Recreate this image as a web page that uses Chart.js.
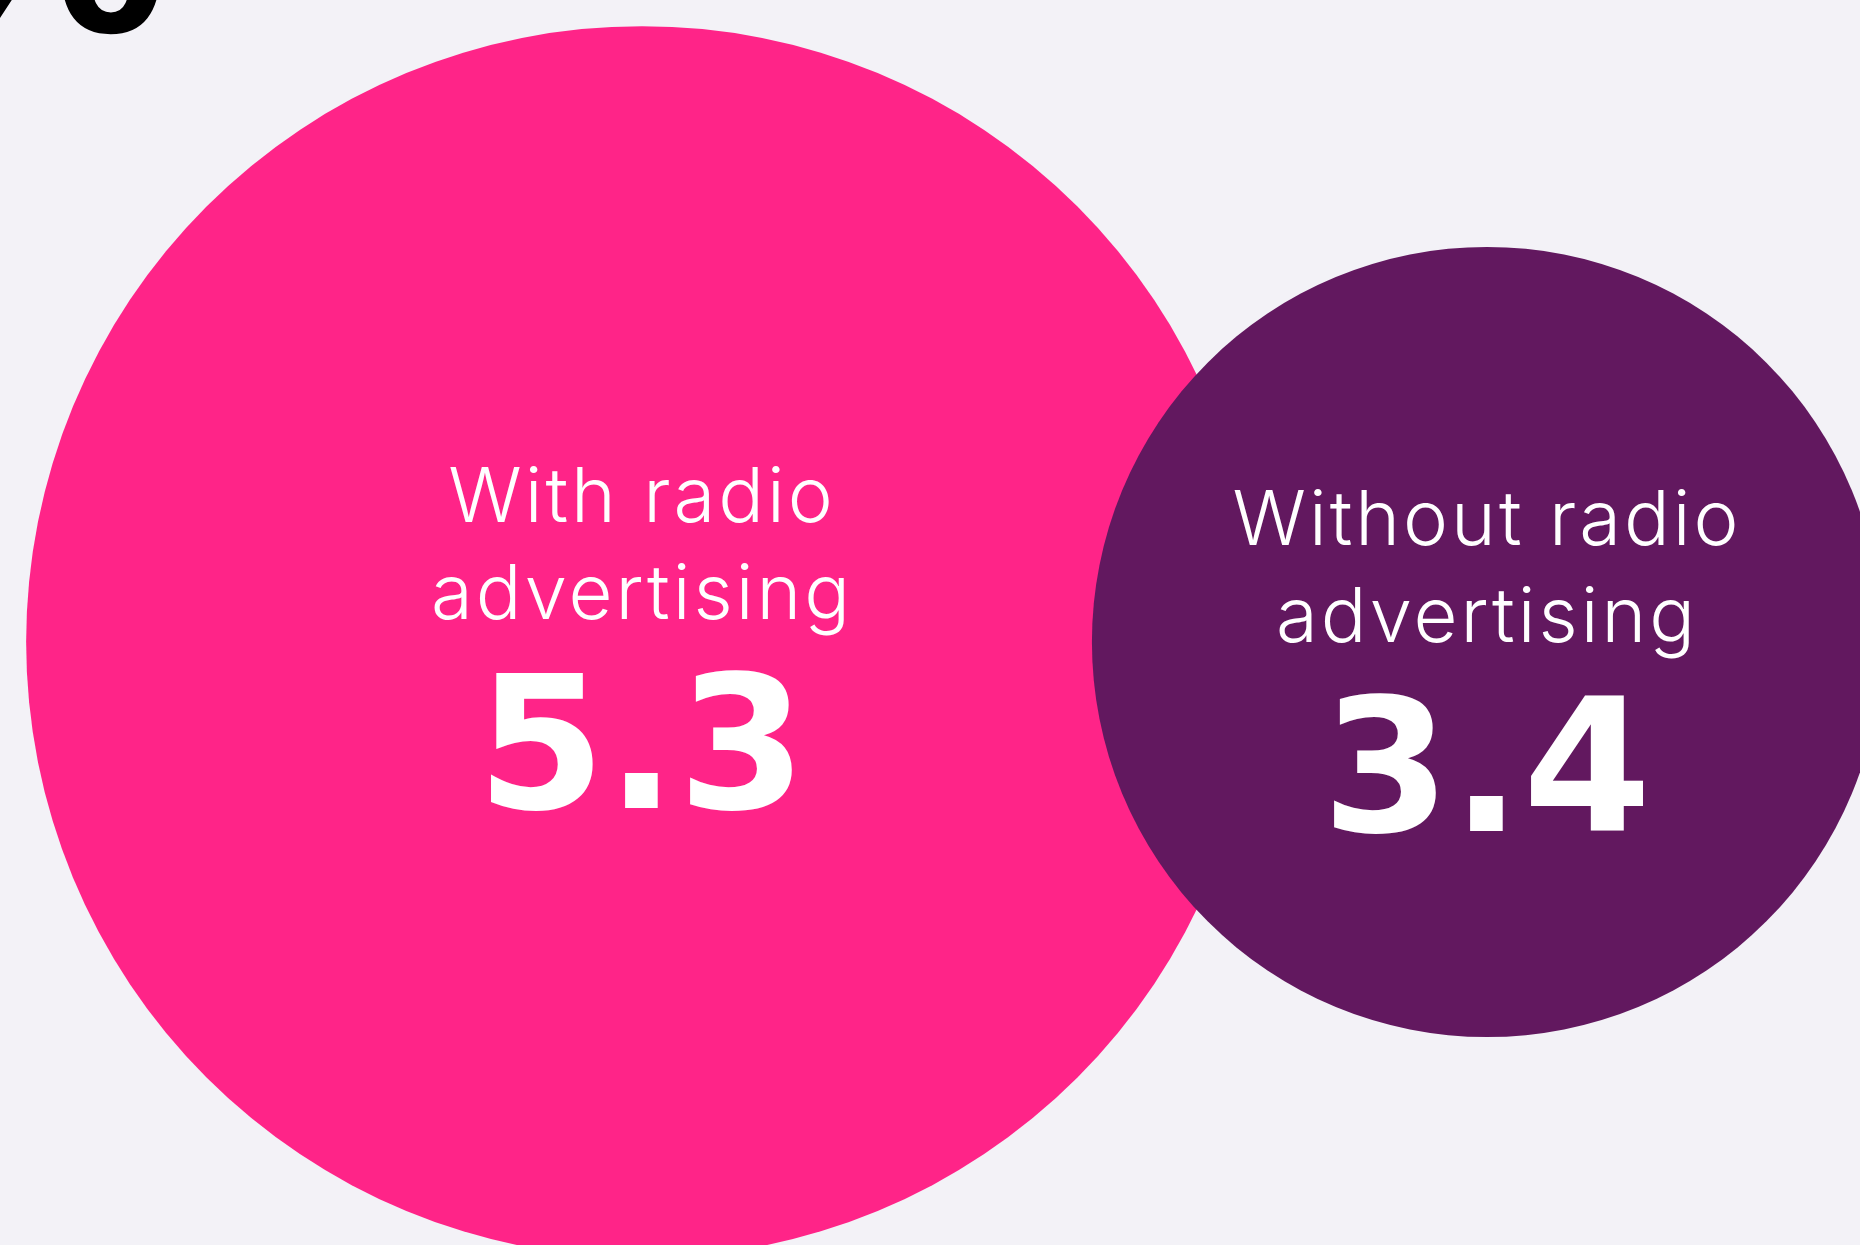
<!DOCTYPE html>
<html>
<head>
<meta charset="utf-8">
<script src="https://cdn.jsdelivr.net/npm/chart.js@4"></script>
<style>
  html, body { margin: 0; padding: 0; background: #f3f2f7; overflow: hidden; }
  #wrap { width: 1860px; height: 1245px; }
</style>
</head>
<body>
<div id="wrap"><canvas id="bubbleChart" width="1860" height="1245"></canvas></div>
<script>
// Average values, with and without radio advertising
const labelLines = [['With radio', 'advertising'], ['Without radio', 'advertising']];
const values = [5.3, 3.4];
const colors = ['#ff2488', '#62185f'];

// bubble radius in px per unit of value
const PX_PER_UNIT = 116.2;
const W = 1860, H = 1245;
const centersX = [642, 1487];   // where index 0 and 1 land on the x axis
const centerY = 642;
const textShift = [-4, 19];

const xPerPx = 1 / (centersX[1] - centersX[0]);
const xMin = -centersX[0] * xPerPx;
const xMax = xMin + W * xPerPx;
const yMin = -1;
const yMax = (centerY / H) / (1 - centerY / H);

const bubbleLabels = {
  id: 'bubbleLabels',
  afterDatasetsDraw(chart) {
    const ctx = chart.ctx;
    const meta = chart.getDatasetMeta(0);
    ctx.save();
    ctx.fillStyle = '#ffffff';
    ctx.textAlign = 'center';
    ctx.textBaseline = 'alphabetic';
    meta.data.forEach((pt, i) => {
      const mid = pt.y + textShift[i];
      ctx.font = '300 76px Inter';
      ctx.letterSpacing = '3px';
      ctx.fillText(labelLines[i][0], pt.x, mid - 116);
      ctx.fillText(labelLines[i][1], pt.x, mid - 19);
      ctx.font = 'bold 185px "DejaVu Sans"';
      ctx.letterSpacing = '1px';
      ctx.fillText(values[i].toFixed(1), pt.x, mid + 170);
    });
    // heading glyph cut off at the top edge
    ctx.fillStyle = '#000000';
    ctx.textAlign = 'left';
    ctx.letterSpacing = '0px';
    ctx.font = 'bold 285px "Liberation Sans"';
    ctx.fillText('%', -86, 32);
    ctx.restore();
  }
};

new Chart(document.getElementById('bubbleChart'), {
  type: 'bubble',
  data: {
    datasets: [{
      data: values.map((v, i) => ({ x: i, y: 0, r: v * PX_PER_UNIT })),
      backgroundColor: colors,
      borderWidth: 0,
      hoverRadius: 0,
      clip: false
    }]
  },
  options: {
    responsive: false,
    animation: false,
    events: [],
    layout: { padding: 0, autoPadding: false },
    plugins: { legend: { display: false }, tooltip: { enabled: false } },
    scales: {
      x: { type: 'linear', min: xMin, max: xMax, display: false },
      y: { type: 'linear', min: yMin, max: yMax, display: false }
    }
  },
  plugins: [bubbleLabels]
});
</script>
</body>
</html>
